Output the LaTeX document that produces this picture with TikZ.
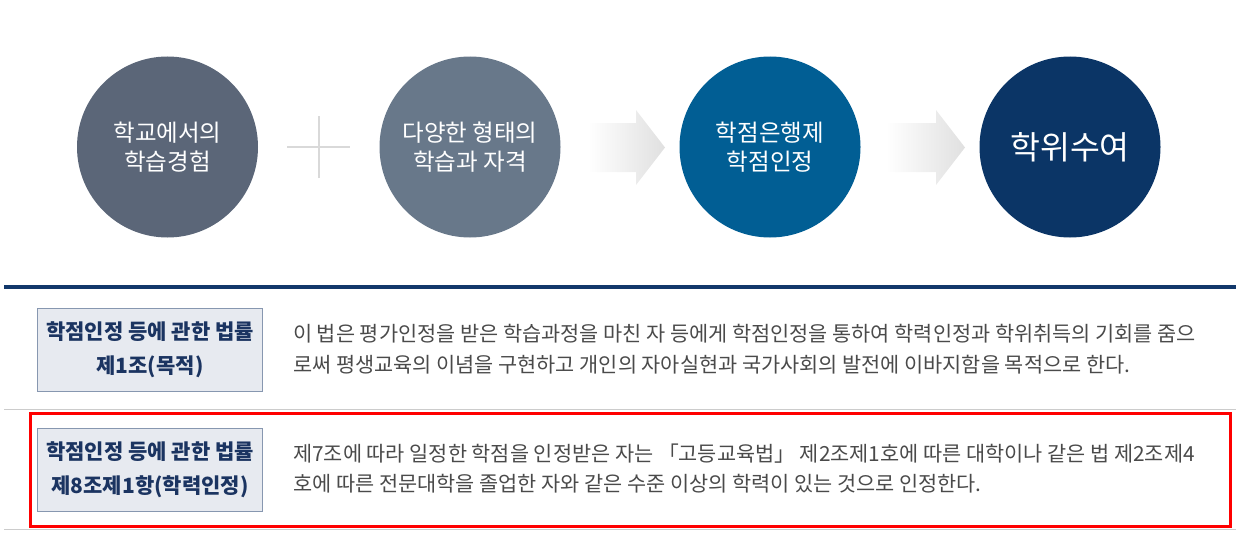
\documentclass[tikz,border=0pt]{standalone}
\usepackage{fontspec}
\setmainfont{Noto Sans CJK KR}
\definecolor{cone}{HTML}{5B6678}
\definecolor{ctwo}{HTML}{68788A}
\definecolor{cthree}{HTML}{015E94}
\definecolor{cfour}{HTML}{0B3566}
\definecolor{navyline}{HTML}{12386B}
\definecolor{boxfill}{HTML}{E7EAF0}
\definecolor{boxline}{HTML}{8797B0}
\definecolor{navytext}{HTML}{1B3461}
\definecolor{bodytext}{HTML}{4A4A4A}
\definecolor{plusgray}{HTML}{D9D9D9}
\definecolor{sepgray}{HTML}{CCCCCC}
\definecolor{arrowgray}{HTML}{E0E0E0}
\begin{document}
\begin{tikzpicture}[x=1pt,y=-1pt,
  circ/.style={circle,minimum size=181pt,inner sep=0pt,text=white,align=center,
    font=\fontsize{23.5}{29}\selectfont},
  lawbox/.style={draw=boxline,fill=boxfill,line width=1pt,minimum width=225pt,
    minimum height=83pt,align=center,text=navytext,inner sep=0pt,
    font=\fontsize{21}{34}\selectfont\bfseries},
  body/.style={anchor=base west,text=bodytext,inner sep=0pt,
    font=\fontsize{20.8}{20.8}\selectfont},
  plusline/.style={draw=plusgray,line width=2pt},
  sepline/.style={draw=sepgray,line width=1pt}]
\useasboundingbox (0,0) rectangle (1252,535);
% circles
\node[circ,fill=cone] (c1) at (167.5,147) {학교에서의\\학습경험};
\node[circ,fill=ctwo] (c2) at (470,147) {다양한 형태의\\학습과 자격};
\node[circ,fill=cthree] (c3) at (770,147) {학점은행제\\학점인정};
\node[circ,fill=cfour,font=\fontsize{32.5}{32.5}\selectfont] (c4) at (1070,147) {학위수여};
% plus
\coordinate (pc) at (318.5,147);
\draw[plusline] ([xshift=-31.5pt]pc) -- ([xshift=31.5pt]pc);
\draw[plusline] ([yshift=-31pt]pc) -- ([yshift=31pt]pc);
% arrows
\shade[left color=white,right color=arrowgray]
  (588,123) -- (636,123) -- (636,110) -- (665,147.5) -- (636,185) -- (636,172) -- (588,172) -- cycle;
\shade[left color=white,right color=arrowgray]
  (886,123) -- (936,123) -- (936,110) -- (965,147.5) -- (936,185) -- (936,172) -- (886,172) -- cycle;
% lines
\draw[navyline,line width=4pt] (4,287) -- (1236,287);
\draw[sepline] (4,409) -- (1236,409);
\draw[sepline] (4,529.5) -- (1236,529.5);
% row 1
\node[lawbox,anchor=north west] (b1) at (37,308) {학점인정 등에 관한 법률\\제1조(목적)};
\node[body] (t1a) at (293,341) {이 법은 평가인정을 받은 학습과정을 마친 자 등에게 학점인정을 통하여 학력인정과 학위취득의 기회를 줌으};
\node[body] (t1b) at (293,372) {로써 평생교육의 이념을 구현하고 개인의 자아실현과 국가사회의 발전에 이바지함을 목적으로 한다.};
% row 2
\node[lawbox,anchor=north west] (b2) at (37,428) {학점인정 등에 관한 법률\\제8조제1항(학력인정)};
\node[body] (t2a) at (293,461) {제7조에 따라 일정한 학점을 인정받은 자는 「고등교육법」 제2조제1호에 따른 대학이나 같은 법 제2조제4};
\node[body] (t2b) at (293,491) {호에 따른 전문대학을 졸업한 자와 같은 수준 이상의 학력이 있는 것으로 인정한다.};
% highlight
\draw[red,line width=3pt] (30,413.5) rectangle (1230.5,526.5);
\end{tikzpicture}
\end{document}
